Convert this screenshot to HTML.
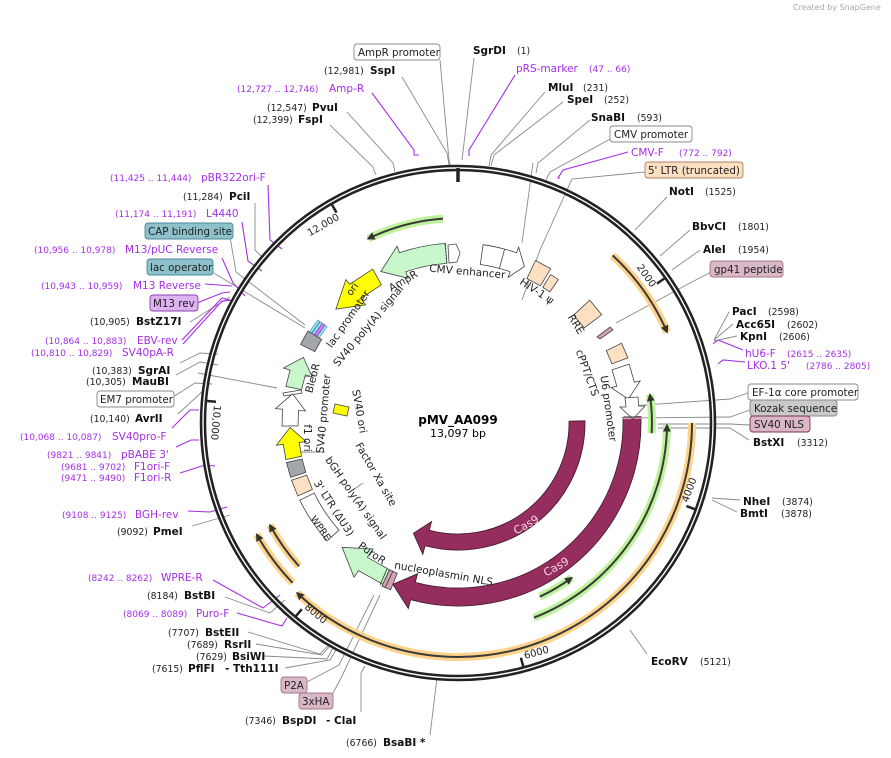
<!DOCTYPE html>
<html><head><meta charset="utf-8"><style>
html,body{margin:0;padding:0;background:#fff;}
svg{display:block;font-family:"DejaVu Sans","Liberation Sans",sans-serif;}
.n{font-size:9.3px;fill:#222}
.b{font-size:10.5px;font-weight:bold;fill:#111}
.p{font-size:10.5px;fill:#a52ee6}
.pn{font-size:9px;fill:#a52ee6}
.f{font-size:10.5px;fill:#222}
.gl{stroke:#8a8a8a;stroke-width:0.9;fill:none}
.pl{stroke:#a52ee6;stroke-width:1.1;fill:none}
.ft{stroke:#444;stroke-width:0.8}
</style></head><body>
<svg width="891" height="758" viewBox="0 0 891 758" xmlns="http://www.w3.org/2000/svg">
<defs>
<marker id="ah" viewBox="0 0 10 10" refX="8" refY="5" markerWidth="4" markerHeight="4" orient="auto"><path d="M0,0 L10,5 L0,10 z" fill="#333"/></marker>
</defs>
<text x="793" y="10" style="font-size:8px;fill:#aaa">Created by SnapGene</text>

<!-- leader lines -->
<g class="gl">
<polyline points="440,60 449,160 451,168"/>
<polyline points="474,58 462,160"/>
<polyline points="402,77 447,153 449,165"/>
<polyline points="347,112 393,163 395,172"/>
<polyline points="330,125 373,167 376,175"/>
<polyline points="545,92 491,155 489,166"/>
<polyline points="563,102 494,155 491,166"/>
<polyline points="590,120 538,163 536,173"/>
<polyline points="612,138 550,172 546,180"/>
<polyline points="645,172 572,179 540,250 522,300"/>
<polyline points="533,163 522,243"/>
<polyline points="667,197 635,230"/>
<polyline points="690,230 660,256"/>
<polyline points="700,250 672,270"/>
<polyline points="711,272 690,283 616,323"/>
<polyline points="729,312 714,340"/>
<polyline points="733,324 714,340"/>
<polyline points="737,336 714,341"/>
<polyline points="748,393 730,399 630,406"/>
<polyline points="750,410 730,417 628,418"/>
<polyline points="750,425 730,424 658,424"/>
<polyline points="749,440 730,428 658,428"/>
<polyline points="740,500 712,498"/>
<polyline points="737,512 712,500"/>
<polyline points="647,654 630,630"/>
<polyline points="430,735 437,678"/>
<polyline points="361,712 361,673 365,666"/>
<polyline points="331,697 342,676 380,595"/>
<polyline points="305,683 339,665 374,595"/>
<polyline points="248,632 320,654 328,646"/>
<polyline points="256,644 322,655 330,646"/>
<polyline points="264,656 327,659 333,648"/>
<polyline points="285,668 330,660 336,650"/>
<polyline points="225,597 270,613 285,600"/>
<polyline points="255,203 255,250 262,257"/>
<polyline points="230,237 236,272 305,325"/>
<polyline points="212,272 305,328"/>
<polyline points="190,322 230,297"/>
<polyline points="180,363 200,353 218,354"/>
<polyline points="176,375 200,362 218,365"/>
<polyline points="198,373 277,388"/>
<polyline points="173,397 195,383 212,384"/>
<polyline points="178,414 204,390"/>
<polyline points="192,526 230,515"/>
<line x1="325" y1="452" x2="287" y2="452"/>
<line x1="353" y1="490" x2="363" y2="483"/>
<line x1="300" y1="378" x2="315" y2="375"/>
</g>
<g class="pl">
<polyline points="515,75 469,150 469,156"/>
<polyline points="372,93 414,150 414,155 419,155"/>
<polyline points="628,152 563,170 558,178 560,178"/>
<polyline points="743,350 718,340 713,344"/>
<polyline points="745,362 723,360 718,364"/>
<polyline points="268,185 270,240 282,249"/>
<polyline points="242,222 248,261 262,271"/>
<polyline points="222,258 233,283 245,296"/>
<polyline points="205,284 232,286"/>
<polyline points="197,303 222,293 230,292"/>
<polyline points="182,340 222,298 230,300"/>
<polyline points="183,344 222,301 236,300"/>
<polyline points="172,428 190,410 199,410"/>
<polyline points="176,447 191,440 199,440"/>
<polyline points="180,473 205,465 215,466"/>
<polyline points="188,511 210,512 227,507"/>
<polyline points="213,580 263,608 280,595"/>
<polyline points="237,613 282,626 287,618"/>
</g>

<!-- backbone -->
<circle cx="458" cy="423" r="255" fill="none" stroke="#222" stroke-width="6.5"/>
<circle cx="458" cy="423" r="255" fill="none" stroke="#fff" stroke-width="1.4"/>
<g stroke="#222" stroke-width="2.5">
<line x1="458" y1="168" x2="458" y2="182" stroke-width="3.5"/>
<line x1="664.4" y1="278.5" x2="657" y2="283.6"/>
<line x1="694.8" y1="509.2" x2="686.4" y2="506.1"/>
<line x1="523.2" y1="666.4" x2="520.9" y2="657.7"/>
<line x1="296" y1="616" x2="301.8" y2="609.2"/>
<line x1="207" y1="401" x2="216" y2="401.8"/>
<line x1="332" y1="204.8" x2="336.5" y2="212.6"/>
</g>

<!-- primer/feature arcs -->
<g fill="none">
<path d="M612.6,255.4 A228 228 0 0 1 667.1,332.1" stroke="#ffd38a" stroke-width="8"/>
<path d="M692,423 A234 234 0 0 1 297.2,593" stroke="#ffd38a" stroke-width="8"/>
<path d="M292.6,582.8 A230 230 0 0 1 256.8,534.5" stroke="#ffd38a" stroke-width="8"/>
<path d="M299,566.2 A214 214 0 0 1 269.9,525.1" stroke="#ffd38a" stroke-width="8"/>
<path d="M651.7,433.2 A194 194 0 0 0 649.9,394.7" stroke="#bdf39a" stroke-width="8"/>
<path d="M533.9,617.7 A209 209 0 0 0 667,425.2" stroke="#bdf39a" stroke-width="8"/>
<path d="M539.8,596.7 A192 192 0 0 0 571.7,577.8" stroke="#bdf39a" stroke-width="8"/>
<path d="M443,218.6 A205 205 0 0 0 368.1,238.7" stroke="#bdf39a" stroke-width="8"/>
<g stroke="#3a3a3a" stroke-width="2" marker-end="url(#ah)">
<path d="M612.6,255.4 A228 228 0 0 1 667.1,332.1"/>
<path d="M692,423 A234 234 0 0 1 297.2,593"/>
<path d="M292.6,582.8 A230 230 0 0 1 256.8,534.5"/>
<path d="M299,566.2 A214 214 0 0 1 269.9,525.1"/>
<path d="M651.7,433.2 A194 194 0 0 0 649.9,394.7"/>
<path d="M533.9,617.7 A209 209 0 0 0 667,425.2"/>
<path d="M539.8,596.7 A192 192 0 0 0 571.7,577.8"/>
<path d="M443,218.6 A205 205 0 0 0 368.1,238.7"/>
</g>
</g>

<g class="f" style="font-size:10px">
<text transform="translate(651,288) rotate(55)" text-anchor="end">2000</text>
<text transform="translate(340,219) rotate(-30)" text-anchor="end">12,000</text>
<text transform="translate(688,503) rotate(-70)" text-anchor="start">4000</text>
<text transform="translate(525,659) rotate(-15)" text-anchor="start">6000</text>
<text transform="translate(304,608) rotate(40)" text-anchor="start">8000</text>
<text transform="translate(214,405) rotate(95)" text-anchor="start">10,000</text>
</g>

<!-- Cas9 -->
<path d="M585,420.8 A127 127 0 0 1 425.1,545.7 L422.8,554.4 L413.4,533.3 L431.6,521.5 L429.3,530.2 A111 111 0 0 0 569,421.1 Z" fill="#952d5e" stroke="#3a1a28" stroke-width="0.8"/>
<path d="M640.9,416.6 A183 183 0 0 1 410.6,599.8 L408.3,608.5 L392.8,584.3 L417.6,573.7 L415.3,582.4 A165 165 0 0 0 622.9,417.2 Z" fill="#952d5e" stroke="#3a1a28" stroke-width="0.8"/>
<line x1="623" y1="418.5" x2="641" y2="418" stroke="#e8a0c0" stroke-width="1.5"/>
<text transform="translate(528,528) rotate(-30)" text-anchor="middle" style="font-size:11px;fill:#f6d5e4">Cas9</text>
<text transform="translate(558,570) rotate(-30)" text-anchor="middle" style="font-size:11px;fill:#f6d5e4">Cas9</text>

<!-- features -->
<g class="ft">
<path d="M445.4,243.4 A180 180 0 0 0 399.4,252.8 L397.1,246.2 L380.8,271.5 L408.2,278.3 L405.9,271.7 A160 160 0 0 1 446.8,263.4 Z" fill="#c9f7cc"/>
<line x1="445" y1="244" x2="447" y2="263" stroke="#333" stroke-dasharray="2,1.5"/>
<polygon points="448,245 456,244 460,253 457,262 449,263" fill="#fff"/>
<path d="M483.1,244.7 A180 180 0 0 1 516.6,252.8 L518.6,247.1 L524.4,266.5 L508.1,277.4 L510.1,271.7 A160 160 0 0 0 480.3,264.5 Z" fill="#fff"/>
<line x1="499.4" y1="268.5" x2="504.6" y2="249.1"/>
<polygon points="535.5,260.5 550.7,268.7 540.4,285.8 526.9,278.6" fill="#fde0c2"/>
<polygon points="550.7,274.6 558.4,279.6 549.8,291.9 542.8,287.3" fill="#fde0c2"/>
<polygon points="589.7,300.2 601.7,314.7 584.2,327.9 573.6,315.2" fill="#fde0c2"/>
<polygon points="597,337 610,327 613,330 600,339" fill="#d4a0b5"/>
<polygon points="621.6,343.2 627.9,357.8 612,363.9 606.3,350.7" fill="#fde0c2"/>
<polygon points="629.1,364.1 634.4,382.3 640.2,380.9 628.3,399.1 611,387.7 616.8,386.3 612.1,369.9" fill="#fff"/>
<polygon points="638,397 638.7,406 645,406 633,419 620,407 626,407 625,398" fill="#fff"/>
<line x1="624" y1="417" x2="640" y2="417" stroke="#333" stroke-width="1"/>
<path d="M372.7,269.1 L349.6,284.3 L345.9,279.6 L335.9,309.1 L365.6,304.8 L360.7,298.5 L381.4,284.8 Z" fill="#ffff00"/>
<g transform="translate(318,330) rotate(-55)" stroke-width="0.6">
<rect x="-8" y="-6" width="16" height="2.5" fill="#9fe0f0" stroke="#3a8aa8"/>
<rect x="-8" y="-3" width="16" height="2.5" fill="#9fe0f0" stroke="#3a8aa8"/>
<rect x="-8" y="0" width="16" height="2.5" fill="#e080f0" stroke="#a52ee6"/>
<rect x="-8" y="3" width="16" height="2.5" fill="#9fe0f0" stroke="#3a8aa8"/>
</g>
<polygon points="307.9,331 300.5,344.5 314.8,351.6 321.6,339.4" fill="#a3a6aa"/>
<polygon points="285.9,386.4 290.1,370.1 283.5,368 303.4,357.4 312.1,377 305.4,374.9 301.5,389.7" fill="#c9f7cc"/>
<polygon points="283,393 301,390 302,393 284,396" fill="#fff"/>
<polygon points="282,426.1 282.5,409.2 275.6,408.6 292.6,393.8 305.5,411 298.5,410.4 298,425.8" fill="#fff"/>
<polygon points="285.9,459.6 283.3,444.5 276.4,445.3 290.1,427.4 306.1,441.6 299.2,442.5 301.5,456.3" fill="#ffff00"/>
<polygon points="286.5,462.6 290.6,477.4 305.8,472.4 302.1,459" fill="#a3a6aa"/>
<polygon points="291.6,480.3 297.8,496 312.4,489.4 306.7,475.1" fill="#fde0c2"/>
<path d="M299.8,500.2 A176 176 0 0 0 327.2,540.8 L339.1,530.1 A160 160 0 0 1 314.2,493.1 Z" fill="#fff"/>
<polygon points="382.8,584.3 358.5,570.6 354,577.2 342.1,547.3 373,549 367.4,557.3 389.5,569.8" fill="#c9f7cc"/>
<polygon points="381.9,586.1 390.6,589.9 397.3,573.2 389.5,569.8" fill="#d4a0b5"/>
<line x1="385" y1="588" x2="393" y2="571" stroke="#333"/>
<line x1="380" y1="585" x2="387" y2="569" stroke="#333"/>
<polygon points="335,404 349,407 347,416 333,413" fill="#ffff00"/>
</g>

<!-- feature labels -->
<g class="f">
<text transform="translate(467,275) rotate(5)" text-anchor="middle">CMV enhancer</text>
<text transform="translate(405,284) rotate(-30)" text-anchor="middle">AmpR</text>
<text transform="translate(535,294) rotate(33)" text-anchor="middle">HIV-1 ψ</text>
<text transform="translate(573,326) rotate(58)" text-anchor="middle">RRE</text>
<text transform="translate(584,374) rotate(70)" text-anchor="middle">cPPT/CTS</text>
<text transform="translate(605,409) rotate(82)" text-anchor="middle">U6 promoter</text>
<text transform="translate(351,321) rotate(-55)" text-anchor="middle">lac promoter</text>
<text transform="translate(371,328) rotate(-50)" text-anchor="middle">SV40 poly(A) signal</text>
<text transform="translate(316,379) rotate(-75)" text-anchor="middle">BleoR</text>
<text transform="translate(327,414) rotate(-85)" text-anchor="middle">SV40 promoter</text>
<text transform="translate(304,438) rotate(90)" text-anchor="middle">f1 ori</text>
<text transform="translate(356,412) rotate(80)" text-anchor="middle">SV40 ori</text>
<text transform="translate(373,476) rotate(60)" text-anchor="middle">Factor Xa site</text>
<text transform="translate(353,500) rotate(55)" text-anchor="middle">bGH poly(A) signal</text>
<text transform="translate(331,510) rotate(57)" text-anchor="middle">3' LTR (ΔU3)</text>
<text transform="translate(318,530) rotate(55)" text-anchor="middle" style="font-size:9.5px">WPRE</text>
<text transform="translate(370,556) rotate(35)" text-anchor="middle">PuroR</text>
<text transform="translate(443,577) rotate(10)" text-anchor="middle">nucleoplasmin NLS</text>
<text transform="translate(355,291) rotate(-55)" text-anchor="middle" style="font-size:10px">ori</text>
</g>
<text x="458" y="424" text-anchor="middle" style="font-size:12px;font-weight:bold">pMV_AA099</text>
<text x="458" y="437" text-anchor="middle" style="font-size:11px">13,097 bp</text>

<!-- boxes -->
<g stroke-width="0.9">
<rect x="354" y="44" width="86" height="16" rx="3" fill="#fff" stroke="#888"/>
<rect x="610" y="126" width="82" height="16" rx="3" fill="#fff" stroke="#888"/>
<rect x="645" y="162" width="98" height="16" rx="3" fill="#fde0c2" stroke="#b08060"/>
<rect x="710" y="261" width="73" height="16" rx="3" fill="#d9b7c7" stroke="#a07888"/>
<rect x="748" y="384" width="110" height="16" rx="3" fill="#fff" stroke="#888"/>
<rect x="750" y="400" width="87" height="16" rx="3" fill="#c8cacc" stroke="#888"/>
<rect x="750" y="416" width="60" height="16" rx="3" fill="#d9b7c7" stroke="#803050"/>
<rect x="145" y="223" width="88" height="16" rx="3" fill="#8fc1cc" stroke="#4a8898"/>
<rect x="147" y="259" width="66" height="16" rx="3" fill="#8fc1cc" stroke="#4a8898"/>
<rect x="150" y="295" width="48" height="16" rx="3" fill="#dcb3f0" stroke="#8a40b0"/>
<rect x="97" y="391" width="77" height="16" rx="3" fill="#fff" stroke="#888"/>
<rect x="281" y="677" width="26" height="16" rx="3" fill="#d9b7c7" stroke="#a07888"/>
<rect x="299" y="693" width="34" height="16" rx="3" fill="#d9b7c7" stroke="#a07888"/>
</g>

<!-- outer labels -->
<g class="f" style="font-size:10.3px">
<text x="358" y="56">AmpR promoter</text>
<text x="614" y="138">CMV promoter</text>
<text x="648" y="174">5' LTR (truncated)</text>
<text x="714" y="273">gp41 peptide</text>
<text x="752" y="396">EF-1α core promoter</text>
<text x="754" y="412">Kozak sequence</text>
<text x="754" y="428">SV40 NLS</text>
<text x="148" y="235">CAP binding site</text>
<text x="150" y="271">lac operator</text>
<text x="153" y="307">M13 rev</text>
<text x="100" y="403">EM7 promoter</text>
<text x="284" y="689">P2A</text>
<text x="302" y="705">3xHA</text>
</g>

<g>
<text class="b" x="473" y="54">SgrDI</text><text class="n" x="517" y="54">(1)</text>
<text class="p" x="516" y="72">pRS-marker</text><text class="pn" x="589" y="72">(47 .. 66)</text>
<text class="n" x="324" y="74">(12,981)</text><text class="b" x="370" y="74">SspI</text>
<text class="pn" x="237" y="92">(12,727 .. 12,746)</text><text class="p" x="329" y="92">Amp-R</text>
<text class="n" x="267" y="111">(12,547)</text><text class="b" x="312" y="111">PvuI</text>
<text class="n" x="253" y="123">(12,399)</text><text class="b" x="298" y="123">FspI</text>
<text class="b" x="548" y="91">MluI</text><text class="n" x="583" y="91">(231)</text>
<text class="b" x="567" y="103">SpeI</text><text class="n" x="604" y="103">(252)</text>
<text class="b" x="591" y="121">SnaBI</text><text class="n" x="637" y="121">(593)</text>
<text class="p" x="631" y="156">CMV-F</text><text class="pn" x="679" y="156">(772 .. 792)</text>
<text class="b" x="669" y="195">NotI</text><text class="n" x="705" y="195">(1525)</text>
<text class="b" x="692" y="230">BbvCI</text><text class="n" x="738" y="230">(1801)</text>
<text class="b" x="703" y="253">AleI</text><text class="n" x="738" y="253">(1954)</text>
<text class="b" x="732" y="315">PacI</text><text class="n" x="768" y="315">(2598)</text>
<text class="b" x="736" y="328">Acc65I</text><text class="n" x="787" y="328">(2602)</text>
<text class="b" x="740" y="340">KpnI</text><text class="n" x="779" y="340">(2606)</text>
<text class="p" x="745" y="357">hU6-F</text><text class="pn" x="787" y="357">(2615 .. 2635)</text>
<text class="p" x="747" y="369">LKO.1 5'</text><text class="pn" x="806" y="369">(2786 .. 2805)</text>
<text class="b" x="753" y="446">BstXI</text><text class="n" x="797" y="446">(3312)</text>
<text class="b" x="743" y="505">NheI</text><text class="n" x="782" y="505">(3874)</text>
<text class="b" x="740" y="517">BmtI</text><text class="n" x="781" y="517">(3878)</text>
<text class="b" x="651" y="665">EcoRV</text><text class="n" x="700" y="665">(5121)</text>
<text class="n" x="346" y="746">(6766)</text><text class="b" x="383" y="746">BsaBI *</text>
<text class="n" x="245" y="724">(7346)</text><text class="b" x="282" y="724">BspDI</text><text class="b" x="326" y="724">- ClaI</text>
<text class="n" x="168" y="636">(7707)</text><text class="b" x="205" y="636">BstEII</text>
<text class="n" x="187" y="648">(7689)</text><text class="b" x="224" y="648">RsrII</text>
<text class="n" x="196" y="660">(7629)</text><text class="b" x="232" y="660">BsiWI</text>
<text class="n" x="152" y="672">(7615)</text><text class="b" x="188" y="672">PflFI</text><text class="b" x="225" y="672">- Tth111I</text>
<text class="pn" x="88" y="581">(8242 .. 8262)</text><text class="p" x="161" y="581">WPRE-R</text>
<text class="n" x="147" y="599">(8184)</text><text class="b" x="184" y="599">BstBI</text>
<text class="pn" x="123" y="617">(8069 .. 8089)</text><text class="p" x="196" y="617">Puro-F</text>
<text class="pn" x="110" y="181">(11,425 .. 11,444)</text><text class="p" x="201" y="181">pBR322ori-F</text>
<text class="n" x="183" y="200">(11,284)</text><text class="b" x="229" y="200">PciI</text>
<text class="pn" x="115" y="217">(11,174 .. 11,191)</text><text class="p" x="206" y="217">L4440</text>
<text class="pn" x="34" y="253">(10,956 .. 10,978)</text><text class="p" x="125" y="253">M13/pUC Reverse</text>
<text class="pn" x="41" y="289">(10,943 .. 10,959)</text><text class="p" x="133" y="289">M13 Reverse</text>
<text class="n" x="90" y="325">(10,905)</text><text class="b" x="136" y="325">BstZ17I</text>
<text class="pn" x="45" y="344">(10,864 .. 10,883)</text><text class="p" x="137" y="344">EBV-rev</text>
<text class="pn" x="31" y="356">(10,810 .. 10,829)</text><text class="p" x="122" y="356">SV40pA-R</text>
<text class="n" x="92" y="374">(10,383)</text><text class="b" x="138" y="374">SgrAI</text>
<text class="n" x="86" y="385">(10,305)</text><text class="b" x="132" y="385">MauBI</text>
<text class="n" x="90" y="422">(10,140)</text><text class="b" x="135" y="422">AvrII</text>
<text class="pn" x="20" y="440">(10,068 .. 10,087)</text><text class="p" x="112" y="440">SV40pro-F</text>
<text class="pn" x="47" y="458">(9821 .. 9841)</text><text class="p" x="121" y="458">pBABE 3'</text>
<text class="pn" x="61" y="470">(9681 .. 9702)</text><text class="p" x="134" y="470">F1ori-F</text>
<text class="pn" x="61" y="481">(9471 .. 9490)</text><text class="p" x="134" y="481">F1ori-R</text>
<text class="pn" x="62" y="518">(9108 .. 9125)</text><text class="p" x="135" y="518">BGH-rev</text>
<text class="n" x="117" y="535">(9092)</text><text class="b" x="153" y="535">PmeI</text>
</g>
</svg>
</body></html>
